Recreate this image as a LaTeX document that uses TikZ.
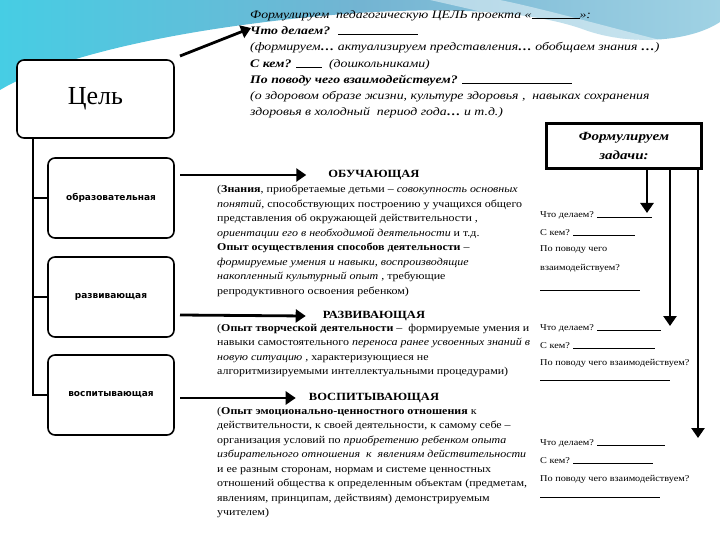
\documentclass[tikz,border=0pt]{standalone}
\usepackage{fontspec}
\setmainfont{Liberation Serif}
\newfontfamily\bodyf[FakeStretch=1.14]{Liberation Serif}
\newfontfamily\topf[FakeStretch=1.2]{Liberation Serif}
\newfontfamily\labf{DejaVu Sans}
\usetikzlibrary{arrows.meta}
\definecolor{swA}{RGB}{70,205,228}
\definecolor{swB}{RGB}{115,180,210}
\definecolor{swC}{RGB}{160,210,228}
\begin{document}
\begin{tikzpicture}[x=1pt,y=-1pt,
  goalbox/.style={draw,line width=1.6pt,rounded corners=7pt,fill=white,inner sep=0pt},
  kindbox/.style={goalbox,minimum width=126pt,minimum height=80pt,font=\labf\bfseries\fontsize{9}{11}\selectfont},
  bigarrow/.style={line width=2.8pt,-{Triangle[length=10pt,width=13pt]}},
  conn/.style={line width=1.6pt},
  body/.style={anchor=north west,inner sep=0pt,align=left,font=\bodyf\fontsize{10.5}{14.5}\selectfont},
  head/.style={inner sep=0pt,font=\bodyf\bfseries\fontsize{11}{12}\selectfont},
  ask/.style={anchor=west,inner sep=0pt,font=\bodyf\fontsize{9}{11}\selectfont}]
\useasboundingbox (0,0) rectangle (720,540);
% decorative swoosh
\shade[left color=swA,right color=swC,middle color=swB]
  (0,0) -- (720,0) -- (720,22) .. controls (690,42) and (630,46) .. (585,30)
  .. controls (520,6) and (400,4) .. (250,24) .. controls (150,37) and (50,60) .. (0,90) -- cycle;
\fill[white,opacity=0.45] (430,0) .. controls (520,20) and (600,42) .. (660,40)
  .. controls (620,30) and (540,8) .. (500,0) -- cycle;

% goal and kinds
\node[goalbox,minimum width=157pt,minimum height=78pt,font=\fontsize{26}{28}\selectfont] (goal) at (95.5,99) {Цель};
\node[kindbox] (obr) at (111,198) {образовательная};
\node[kindbox] (razv) at (111,297) {развивающая};
\node[kindbox] (vosp) at (111,395) {воспитывающая};
\coordinate (trunk) at (33,395);
\draw[conn] (goal.south -| trunk) -- (trunk) -- (vosp.west);
\draw[conn] (obr.west -| trunk) -- (obr.west);
\draw[conn] (razv.west -| trunk) -- (razv.west);

% top text
\node[anchor=north west,inner sep=0pt,align=left,font=\topf\itshape\fontsize{11.5}{16.3}\selectfont] (top) at (250,10)
{Формулируем \ педагогическую ЦЕЛЬ проекта «\rule{48pt}{0.5pt}»:\\
\textbf{Что делаем?} \ \rule{80pt}{0.5pt}\\
(формируем\textbf{…} актуализируем представления\textbf{…} обобщаем знания \textbf{…})\\
\textbf{С кем?} \rule{26pt}{0.5pt} \ (дошкольниками)\\
\textbf{По поводу чего взаимодействуем?} \rule{110pt}{0.5pt}\\
(о здоровом образе жизни, культуре здоровья , \ навыках сохранения\\
здоровья в холодный \ период года\textbf{…} и т.д.)};
\coordinate (ga) at (180,56);
\coordinate (gb) at (251,28);
\draw[bigarrow] (ga) -- (gb);

% tasks box
\node[draw,line width=3.5pt,minimum width=155pt,minimum height=45pt,inner sep=0pt,align=center,
  font=\topf\bfseries\itshape\fontsize{12.5}{19}\selectfont] (task) at (624,146) {Формулируем\\задачи:};
\coordinate (t1) at (647,213);
\coordinate (t2) at (670,326);
\coordinate (t3) at (698,438);
\draw[bigarrow] (task.south -| t1) -- (t1);
\draw[bigarrow] (task.south -| t2) -- (t2);
\draw[bigarrow] (task.south -| t3) -- (t3);

% headings and arrows
\node[head] (h1) at (374,175) {ОБУЧАЮЩАЯ};
\node[head] (h2) at (374,316) {РАЗВИВАЮЩАЯ};
\node[head] (h3) at (374,398) {ВОСПИТЫВАЮЩАЯ};
\coordinate (a1) at (180,175);
\coordinate (a2) at (180,315);
\coordinate (a3) at (180,398);
\draw[bigarrow] (a1) -- ([xshift=-22pt]h1.west);
\draw[bigarrow] (a2) -- ([xshift=-17pt]h2.west);
\draw[bigarrow] (a3) -- ([xshift=-13pt]h3.west);

% body texts
\node[body] (b1) at (217,185) {(\textbf{Знания}, приобретаемые детьми – \textit{совокупность основных}\\
\textit{понятий}, способствующих построению у учащихся общего\\
представления об окружающей действительности ,\\
\textit{ориентации его в необходимой деятельности} и т.д.\\
\textbf{Опыт осуществления способов деятельности} –\\
\textit{формируемые умения и навыки, воспроизводящие}\\
\textit{накопленный культурный опыт} , требующие\\
репродуктивного освоения ребенком)};
\node[body] (b2) at (217,324) {(\textbf{Опыт творческой деятельности} – \ формируемые умения и\\
навыки самостоятельного \textit{переноса ранее усвоенных знаний в}\\
\textit{новую ситуацию} , характеризующиеся не\\
алгоритмизируемыми интеллектуальными процедурами)};
\node[body] (b3) at (217,407) {(\textbf{Опыт эмоционально-ценностного отношения} к\\
действительности, к своей деятельности, к самому себе –\\
организация условий по \textit{приобретению ребенком опыта}\\
\textit{избирательного отношения \ к \ явлениям действительности}\\
и ее разным сторонам, нормам и системе ценностных\\
отношений общества к определенным объектам (предметам,\\
явлениям, принципам, действиям) демонстрируемым\\
учителем)};

% question columns
\node[ask] (q1a) at (540,215) {Что делаем? \rule{55pt}{0.5pt}};
\node[ask] (q1b) at (540,233) {С кем? \rule{62pt}{0.5pt}};
\node[ask] (q1c) at (540,250) {По поводу чего};
\node[ask] (q1d) at (540,268) {взаимодействуем?};
\node[ask] (q1e) at (540,290) {\rule{100pt}{0.5pt}};
\node[ask] (q2a) at (540,328) {Что делаем? \rule{64pt}{0.5pt}};
\node[ask] (q2b) at (540,346) {С кем? \rule{82pt}{0.5pt}};
\node[ask] (q2c) at (540,363) {По поводу чего взаимодействуем?};
\node[ask] (q2d) at (540,380) {\rule{130pt}{0.5pt}};
\node[ask] (q3a) at (540,443) {Что делаем? \rule{68pt}{0.5pt}};
\node[ask] (q3b) at (540,461) {С кем? \rule{80pt}{0.5pt}};
\node[ask] (q3c) at (540,479) {По поводу чего взаимодействуем?};
\node[ask] (q3d) at (540,497) {\rule{120pt}{0.5pt}};
\end{tikzpicture}
\end{document}
